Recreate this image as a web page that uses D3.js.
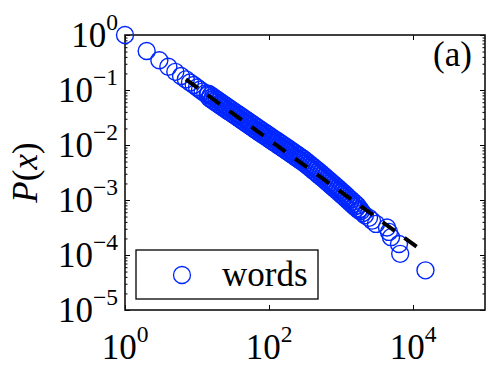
<!DOCTYPE html>
<html><head><meta charset="utf-8">
<script src="https://cdn.jsdelivr.net/npm/d3@7"></script>
<style>
body{margin:0;background:#fff;}
svg{display:block;}
</style>
</head><body>
<svg id="c" width="488" height="366"></svg>
<script>
// ---- data ----
const xValues = [1,2,3,4,5,6,7,8,9,10,11,12,13,14,
  14.45,14.96,15.49,16.03,16.6,17.18,17.78,18.41,19.05,19.72,20.42,21.13,21.88,22.65,23.44,24.27,25.12,26.0,26.92,27.86,
  28.84,29.85,30.9,31.99,33.11,34.28,35.48,36.73,38.02,39.36,40.74,42.17,43.65,45.19,46.77,48.42,50.12,51.88,53.7,55.59,
  57.54,59.57,61.66,63.83,66.07,68.39,70.79,73.28,75.86,78.52,81.28,84.14,87.1,90.16,93.33,96.61,
  100,103.5,107.2,110.9,114.8,118.9,123,127.4,131.8,136.5,141.3,146.2,151.4,156.7,162.2,167.9,173.8,179.9,186.2,192.8,
  199.5,206.5,213.8,221.3,229.1,237.1,245.5,254.1,263,272.3,281.8,291.7,302,312.6,
  323.6,335,346.7,358.9,371.5,384.6,398.1,412.1,426.6,441.6,457.1,473.2,489.8,
  507,524.8,543.3,562.3,582.1,602.6,623.7,645.7,668.3,691.8,716.1,741.3,767.4,
  794.3,822.2,851.1,881,912,944.1,977.2,1012,1047,1084,1122,1161,1202,1245,
  1288,1334,1380,1429,1479,1531,1585,1641,1698,1758,
  1830,1900,2000,2150,2450,2700,3060,4350,4640,4950,6390,6640,14900];
const pValues = [1,0.512,0.348,0.265,0.214,0.180,0.156,0.137,0.123,0.111,0.101,0.0934,0.0866,0.0807,
  0.0856,0.0710,0.0804,0.0667,0.0754,0.0626,0.0708,0.0587,0.0664,0.0551,0.0624,0.0518,0.0586,0.0487,0.0551,0.0458,0.0518,0.0430,0.0487,0.0404,
  0.0458,0.0380,0.0430,0.0357,0.0404,0.0336,0.0380,0.0315,0.0356,0.0296,0.0336,0.0278,0.0315,0.0262,0.0296,0.0246,0.0279,0.0231,0.0261,0.0217,
  0.0246,0.0204,0.0231,0.0191,0.0217,0.0180,0.0204,0.0169,0.0192,0.0159,0.0180,0.0150,0.0170,0.0141,0.0159,0.0132,
  0.0150,0.0124,0.0140,0.0117,0.0133,0.0110,0.0124,0.0104,0.0118,0.00971,0.0110,0.00917,0.0104,0.00862,0.00976,0.00811,0.00919,0.00763,0.00864,0.00718,
  0.00813,0.00674,0.00764,0.00633,0.00716,0.00594,0.00672,0.00557,0.00630,0.00523,0.00591,0.00490,0.00555,0.00460,
  0.00518,0.00428,0.00482,0.00398,0.00447,0.00369,0.00415,0.00342,0.00386,0.00318,0.00357,0.00295,0.00333,
  0.00274,0.00308,0.00253,0.00285,0.00235,0.00264,0.00217,0.00244,0.00201,0.00226,0.00186,0.00208,0.00172,
  0.00193,0.00159,0.00178,0.00147,0.00165,0.00136,0.00152,0.00125,0.00140,0.00116,0.00130,0.00106,0.00119,0.000981,
  0.00109,0.000900,0.00101,0.000830,0.000930,0.000764,0.000856,0.000705,0.000789,0.000649,
  0.000684,0.000632,0.000579,0.000526,0.000474,0.000421,0.000368,0.000316,0.000263,0.000211,0.000158,0.000105,0.0000526];
const fitX = [7, 12800];
const fitP = [0.156, 0.000125];
const xTickValues = [1, 100, 10000];
const xTickExps = ["0", "2", "4"];
const yTickValues = [1, 0.1, 0.01, 0.001, 0.0001, 0.00001];
const yTickExps = ["0", "\u22121", "\u22122", "\u22123", "\u22124", "\u22125"];
const seriesName = "words";
const panelLabel = "(a)";
const yLabelParts = [["P", true], ["(", false], ["x", true], [")", false]];

// ---- layout ----
const FONT = "'Liberation Serif','Times New Roman',Times,'DejaVu Serif',serif";
const L = 125, R = 485, T = 35, B = 310;
const FS = 35, FSE = 23.5;
const BLUE = "#0026ff";
const svg = d3.select("#c").attr("font-family", FONT);
const x = d3.scaleLog().domain([1, 1e5]).range([L, R]);
const y = d3.scaleLog().domain([1e-5, 1]).range([B, T]);

const minorY = y.ticks().filter(v => Math.abs(Math.log10(v) - Math.round(Math.log10(v))) > 1e-6);

function axisG(gen, tx, ty) {
  const g = svg.append("g").attr("transform", `translate(${tx},${ty})`).call(gen);
  g.select(".domain").remove();
  g.selectAll("line").attr("stroke", "#000").attr("stroke-width", 1);
  g.selectAll("text").remove();
  return g;
}
axisG(d3.axisBottom(x).tickValues(xTickValues).tickSize(-5).tickFormat(""), 0, B);
axisG(d3.axisTop(x).tickValues(xTickValues).tickSize(-5).tickFormat(""), 0, T);
axisG(d3.axisLeft(y).tickValues(yTickValues).tickSize(-5).tickFormat(""), L, 0);
axisG(d3.axisRight(y).tickValues(yTickValues).tickSize(-5).tickFormat(""), R, 0);
axisG(d3.axisLeft(y).tickValues(minorY).tickSize(-2.5).tickFormat(""), L, 0);
axisG(d3.axisRight(y).tickValues(minorY).tickSize(-2.5).tickFormat(""), R, 0);

svg.append("rect").attr("x", L).attr("y", T).attr("width", R - L).attr("height", B - T)
  .attr("fill", "none").attr("stroke", "#111").attr("stroke-width", 1.6);

function txt() { return svg.append("text").attr("font-family", FONT).attr("fill", "#000"); }

xTickValues.forEach((v, i) => {
  const t = txt().attr("x", x(v)).attr("y", 359).attr("text-anchor", "middle").attr("font-size", FS);
  t.append("tspan").text("10");
  t.append("tspan").attr("dy", -17).attr("font-size", FSE).text(xTickExps[i]);
});
yTickValues.forEach((v, i) => {
  const t = txt().attr("x", 118).attr("y", y(v) + 12).attr("text-anchor", "end").attr("font-size", FS);
  t.append("tspan").text("10");
  t.append("tspan").attr("dy", -17).attr("font-size", FSE).text(yTickExps[i]);
});

const yl = txt().attr("transform", `translate(37,${(T + B) / 2}) rotate(-90)`)
  .attr("text-anchor", "middle").attr("font-size", FS);
yLabelParts.forEach(([s, it]) => yl.append("tspan").attr("font-style", it ? "italic" : "normal").text(s));

const pts = d3.zip(xValues, pValues);
svg.append("g").selectAll("circle").data(pts).join("circle")
  .attr("cx", d => x(d[0])).attr("cy", d => y(d[1])).attr("r", 8.5)
  .attr("fill", "none").attr("stroke", BLUE).attr("stroke-width", 1.4);

svg.append("path").datum(d3.zip(fitX, fitP))
  .attr("d", d3.line().x(d => x(d[0])).y(d => y(d[1])))
  .attr("fill", "none").attr("stroke", "#000").attr("stroke-width", 4).attr("stroke-dasharray", "15,12");

txt().attr("x", 433).attr("y", 66).attr("font-size", FS).text(panelLabel);

svg.append("rect").attr("x", 136).attr("y", 250).attr("width", 182).attr("height", 49)
  .attr("fill", "#fff").attr("stroke", "#000").attr("stroke-width", 1.3);
svg.append("circle").attr("cx", 182).attr("cy", 275).attr("r", 8.5)
  .attr("fill", "none").attr("stroke", BLUE).attr("stroke-width", 1.3);
txt().attr("x", 222).attr("y", 286).attr("font-size", FS).text(seriesName);
</script>
</body></html>
